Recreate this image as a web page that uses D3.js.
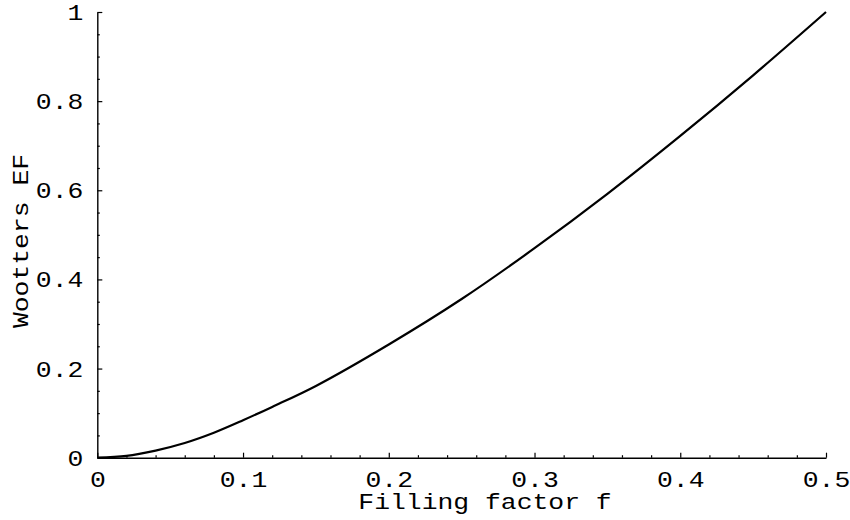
<!DOCTYPE html>
<html>
<head>
<meta charset="utf-8">
<script src="https://cdn.jsdelivr.net/npm/d3@7"></script>
<style>
  body { margin: 0; background: #fff; }
  svg { display: block; }
</style>
</head>
<body>
<div id="chart"></div>
<script>
// values
const fillingFactor = [0, 0.02, 0.04, 0.06, 0.08, 0.1, 0.12, 0.15, 0.2, 0.25, 0.3, 0.35, 0.4, 0.45, 0.5];
const woottersEF = [0, 0.004, 0.016, 0.033, 0.056, 0.084, 0.114, 0.161, 0.254, 0.356, 0.470, 0.592, 0.722, 0.858, 1.0];

const xMajor = [0, 0.1, 0.2, 0.3, 0.4, 0.5];
const xMajorLabels = ["0", "0.1", "0.2", "0.3", "0.4", "0.5"];
const yMajor = [0, 0.2, 0.4, 0.6, 0.8, 1];
const yMajorLabels = ["0", "0.2", "0.4", "0.6", "0.8", "1"];
const xMinor = d3.range(0, 51, 2).map(d => d / 100).filter(d => Math.round(d * 100) % 10 !== 0);
const yMinor = d3.range(0, 101, 5).map(d => d / 100).filter(d => Math.round(d * 100) % 20 !== 0);

const width = 850, height = 520;
const font = "'Liberation Mono', 'Courier New', monospace";
const fontSize = "22px";
const sx = 1.2; // stretch glyphs sideways like the original

const x = d3.scaleLinear().domain([0, 0.5]).range([97.3, 826]);
const y = d3.scaleLinear().domain([0, 1]).range([457.7, 12]);

const svg = d3.select("#chart").append("svg")
    .attr("width", width)
    .attr("height", height);

// minor ticks
const gxMinor = svg.append("g")
    .attr("transform", `translate(0,${y(0)})`)
    .call(d3.axisBottom(x).tickValues(xMinor).tickSize(-2.5).tickSizeOuter(0).tickFormat(""));
const gyMinor = svg.append("g")
    .attr("transform", `translate(${x(0)},0)`)
    .call(d3.axisLeft(y).tickValues(yMinor).tickSize(-2.5).tickSizeOuter(0).tickFormat(""));

// major ticks
const gx = svg.append("g")
    .attr("transform", `translate(0,${y(0)})`)
    .call(d3.axisBottom(x).tickValues(xMajor).tickSize(-5).tickSizeOuter(0)
        .tickFormat((d, i) => xMajorLabels[i]));
const gy = svg.append("g")
    .attr("transform", `translate(${x(0)},0)`)
    .call(d3.axisLeft(y).tickValues(yMajor).tickSize(-5).tickSizeOuter(0)
        .tickFormat((d, i) => yMajorLabels[i]));

[gxMinor, gyMinor, gx, gy].forEach(g => {
    g.select(".domain").attr("stroke", "#000").attr("stroke-width", 1.4);
    g.selectAll(".tick line").attr("stroke", "#000").attr("stroke-width", 1.2);
});
gxMinor.select(".domain").remove();
gyMinor.select(".domain").remove();

gx.selectAll(".tick text")
    .attr("y", null).attr("dy", null)
    .attr("transform", `translate(0,29) scale(${sx},1)`)
    .attr("text-anchor", "middle")
    .style("font-family", font)
    .style("font-size", fontSize)
    .attr("fill", "#000");

gy.selectAll(".tick text")
    .attr("x", null).attr("dy", null)
    .attr("transform", `translate(-14,7.5) scale(${sx},1)`)
    .attr("text-anchor", "end")
    .style("font-family", font)
    .style("font-size", fontSize)
    .attr("fill", "#000");

// curve
const line = d3.line()
    .x((d, i) => x(fillingFactor[i]))
    .y(d => y(d))
    .curve(d3.curveCatmullRom.alpha(0.5));

svg.append("path")
    .datum(woottersEF)
    .attr("d", line)
    .attr("fill", "none")
    .attr("stroke", "#000")
    .attr("stroke-width", 2.2);

// axis titles
svg.append("text")
    .attr("transform", `translate(485,509) scale(${sx},1)`)
    .attr("text-anchor", "middle")
    .style("font-family", font)
    .style("font-size", fontSize)
    .text("Filling factor f");

svg.append("text")
    .attr("transform", `translate(28,241) rotate(-90) scale(${sx},1)`)
    .attr("text-anchor", "middle")
    .style("font-family", font)
    .style("font-size", fontSize)
    .text("Wootters EF");
</script>
</body>
</html>
